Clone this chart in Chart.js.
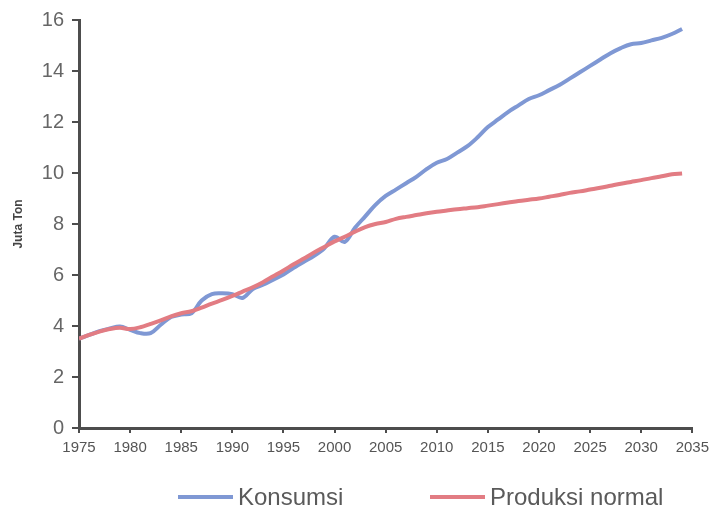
<!DOCTYPE html>
<html>
<head>
<meta charset="utf-8">
<script src="https://cdn.jsdelivr.net/npm/chart.js@4/dist/chart.umd.min.js"></script>
<style>
  html, body { margin: 0; padding: 0; background: #ffffff; }
  #wrap { width: 715px; height: 516px; position: relative; }
</style>
</head>
<body>
<div id="wrap"><canvas id="c" width="715" height="516"></canvas></div>
<script>
// ---- data ----
const years = [1975,1976,1977,1978,1979,1980,1981,1982,1983,1984,
               1985,1986,1987,1988,1989,1990,1991,1992,1993,1994,
               1995,1996,1997,1998,1999,2000,2001,2002,2003,2004,
               2005,2006,2007,2008,2009,2010,2011,2012,2013,2014,
               2015,2016,2017,2018,2019,2020,2021,2022,2023,2024,
               2025,2026,2027,2028,2029,2030,2031,2032,2033,2034];
const konsumsi = [3.50,3.65,3.80,3.90,3.98,3.85,3.72,3.72,4.05,4.35,
                  4.45,4.50,5.00,5.25,5.28,5.25,5.10,5.45,5.62,5.82,
                  6.02,6.28,6.52,6.75,7.05,7.50,7.30,7.85,8.30,8.75,
                  9.10,9.35,9.60,9.85,10.15,10.40,10.55,10.80,11.05,11.40,
                  11.80,12.10,12.40,12.65,12.90,13.05,13.25,13.45,13.70,13.95,
                  14.20,14.45,14.70,14.90,15.05,15.10,15.20,15.30,15.45,15.65];
const produksi = [3.50,3.65,3.78,3.88,3.93,3.88,3.95,4.08,4.22,4.38,
                  4.50,4.58,4.72,4.88,5.02,5.18,5.35,5.52,5.72,5.95,
                  6.18,6.42,6.65,6.88,7.10,7.32,7.50,7.70,7.88,8.00,
                  8.08,8.20,8.28,8.35,8.42,8.48,8.53,8.58,8.62,8.66,
                  8.72,8.78,8.84,8.90,8.95,9.00,9.07,9.14,9.22,9.28,
                  9.35,9.42,9.50,9.58,9.65,9.72,9.80,9.87,9.95,9.98];
const seriesNames = ['Konsumsi', 'Produksi normal'];
const xTickLabels = [1975,1980,1985,1990,1995,2000,2005,2010,2015,2020,2025,2030,2035];
const yTickLabels = [0,2,4,6,8,10,12,14,16];
const yTitle = 'Juta Ton';

// ---- styling ----
const colors = ['#7f98d4', '#e27c83'];
const axisColor = '#4d4d4d';
const FONT = "'Liberation Sans', Arial, sans-serif";

const toPoints = (vals) => years.map((y, i) => ({ x: y, y: vals[i] }));

const legendPlugin = {
  id: 'bottomLegend',
  afterDraw(chart) {
    const ctx = chart.ctx;
    const rowY = 497;
    const starts = [178, 430];
    const lineLen = 55;
    ctx.save();
    ctx.font = '24px ' + FONT;
    ctx.textBaseline = 'middle';
    ctx.textAlign = 'left';
    seriesNames.forEach((name, i) => {
      const x0 = starts[i];
      ctx.strokeStyle = colors[i];
      ctx.lineWidth = 4;
      ctx.beginPath();
      ctx.moveTo(x0, rowY);
      ctx.lineTo(x0 + lineLen, rowY);
      ctx.stroke();
      ctx.fillStyle = '#5a5a5a';
      ctx.fillText(name, x0 + lineLen + 5, rowY + 1);
    });
    ctx.restore();
  }
};

new Chart(document.getElementById('c'), {
  type: 'line',
  data: {
    datasets: [
      { label: seriesNames[0], data: toPoints(konsumsi), borderColor: colors[0],
        backgroundColor: colors[0], borderWidth: 4, pointRadius: 0, tension: 0.35, order: 2 },
      { label: seriesNames[1], data: toPoints(produksi), borderColor: colors[1],
        backgroundColor: colors[1], borderWidth: 4, pointRadius: 0, tension: 0.35, order: 1 }
    ]
  },
  options: {
    responsive: false,
    animation: false,
    devicePixelRatio: 1,
    layout: { padding: { top: 8, right: 1, bottom: 52, left: 0 } },
    plugins: {
      legend: { display: false },
      tooltip: { enabled: false }
    },
    scales: {
      x: {
        type: 'linear',
        min: xTickLabels[0],
        max: xTickLabels[xTickLabels.length - 1],
        afterBuildTicks: (scale) => { scale.ticks = xTickLabels.map(v => ({ value: v })); },
        afterFit: (scale) => { scale.height = 36; },
        ticks: {
          callback: (v) => String(v),
          color: '#555555',
          font: { family: FONT, size: 15 },
          padding: 6,
          maxRotation: 0,
          autoSkip: false
        },
        grid: { display: true, drawOnChartArea: false, drawTicks: true, tickLength: 5,
                color: axisColor, lineWidth: 2 },
        border: { display: true, color: axisColor, width: 3 }
      },
      y: {
        min: yTickLabels[0],
        max: yTickLabels[yTickLabels.length - 1],
        afterBuildTicks: (scale) => { scale.ticks = yTickLabels.map(v => ({ value: v })); },
        afterFit: (scale) => { scale.width = 79; },
        ticks: {
          color: '#666666',
          font: { family: FONT, size: 20 },
          padding: 8
        },
        grid: { display: true, drawOnChartArea: false, drawTicks: true, tickLength: 7,
                color: axisColor, lineWidth: 2 },
        border: { display: true, color: axisColor, width: 3 },
        title: {
          display: true,
          text: yTitle,
          color: '#444444',
          font: { family: FONT, size: 12, weight: 'bold' },
          padding: { top: 11, bottom: 0 }
        }
      }
    }
  },
  plugins: [legendPlugin]
});
</script>
</body>
</html>
